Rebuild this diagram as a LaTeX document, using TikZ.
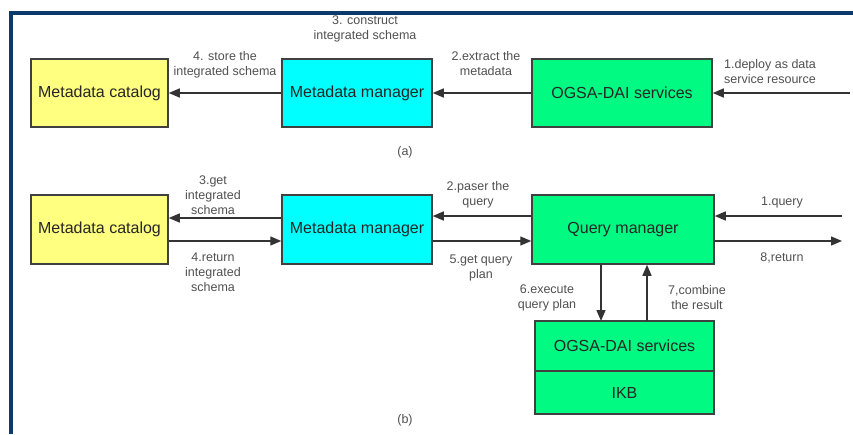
\documentclass[tikz,border=0pt]{standalone}
\usepackage{fontspec}
\setmainfont{Liberation Sans}
\usetikzlibrary{arrows.meta}

\definecolor{catcol}{HTML}{FFFF80}
\definecolor{mgrcol}{HTML}{00FFFF}
\definecolor{svccol}{HTML}{00FA82}
\definecolor{framecol}{HTML}{0B3B6E}
\definecolor{txtcol}{HTML}{505050}

\tikzset{
	box/.style = {draw = black!75, line width = 1.5pt, inner sep = 0pt, font = \fontsize{16}{19}\selectfont, text = black!85},
	lbl/.style = {align = center, inner sep = 0pt, font = \fontsize{12.5}{15}\selectfont, text = txtcol},
	arr/.style = {draw = black!80, line width = 1.4pt, -{Triangle[length = 11pt, width = 9pt]}}
}

\begin{document}
\begin{tikzpicture}[x = 1pt, y = -1pt]
	\useasboundingbox (0,0) rectangle (853,434);
	\draw[framecol, line width = 4pt] (11,434) -- (11,12.5) -- (853,12.5);

	% (a)
	\node[box, fill = catcol, minimum width = 137pt, minimum height = 68pt] (catA) at (99.5,93) {Metadata catalog};
	\node[box, fill = mgrcol, minimum width = 150pt, minimum height = 68pt] (mgrA) at (357,93) {Metadata manager};
	\node[box, fill = svccol, minimum width = 180pt, minimum height = 68pt] (svcA) at (622,93) {OGSA-DAI services};
	\coordinate (inA) at (850,93);
	\draw[arr] (inA) -- (svcA);
	\draw[arr] (svcA) -- (mgrA);
	\draw[arr] (mgrA) -- (catA);
	\node[lbl] (l1a) at (770,71.5) {1.deploy as data\\service resource};
	\node[lbl] (l2a) at (486,63.5) {2.extract the\\metadata};
	\node[lbl] (l3a) at (365,28.5) {3. construct\\integrated schema};
	\node[lbl] (l4a) at (225,64.5) {4. store the\\integrated schema};
	\node[lbl] (capA) at (405,152) {(a)};

	% (b)
	\node[box, fill = catcol, minimum width = 137pt, minimum height = 69pt] (catB) at (99.5,229.5) {Metadata catalog};
	\node[box, fill = mgrcol, minimum width = 150pt, minimum height = 69pt] (mgrB) at (357,229.5) {Metadata manager};
	\node[box, fill = svccol, minimum width = 182pt, minimum height = 69pt] (qry) at (623,229.5) {Query manager};
	\node[box, fill = svccol, minimum width = 179pt, minimum height = 50pt, outer sep = 0pt] (svcB) at (624.5,346) {OGSA-DAI services};
	\node[box, fill = svccol, minimum width = 179pt, minimum height = 43pt, outer sep = 0pt, anchor = north] (ikb) at (svcB.south) {IKB};
	\coordinate (inB) at (842,216);
	\coordinate (outB) at (842,241);
	\coordinate (down) at (601,0);
	\coordinate (up) at (647,0);
	\draw[arr] (inB) -- (qry.east |- inB);
	\draw[arr] (qry.east |- outB) -- (outB);
	\draw[arr] ([yshift = 13.5pt]qry.west) -- ([yshift = 13.5pt]mgrB.east);
	\draw[arr] ([yshift = -11.5pt]mgrB.east) -- ([yshift = -11.5pt]qry.west);
	\draw[arr] ([yshift = 11.5pt]mgrB.west) -- ([yshift = 11.5pt]catB.east);
	\draw[arr] ([yshift = -11.5pt]catB.east) -- ([yshift = -11.5pt]mgrB.west);
	\draw[arr] (qry.south -| down) -- (svcB.north -| down);
	\draw[arr] (svcB.north -| up) -- (qry.south -| up);
	\node[lbl] (l1b) at (782,202) {1.query};
	\node[lbl] (l2b) at (478,194.5) {2.paser the\\query};
	\node[lbl] (l3b) at (213,195) {3.get\\integrated\\schema};
	\node[lbl] (l4b) at (213,272) {4.return\\integrated\\schema};
	\node[lbl] (l5b) at (481,267.5) {5.get query\\plan};
	\node[lbl] (l6b) at (547,297.5) {6.execute\\query plan};
	\node[lbl] (l7b) at (697,297.5) {7,combine\\the result};
	\node[lbl] (l8b) at (782,258) {8,return};
	\node[lbl] (capB) at (405,420) {(b)};
\end{tikzpicture}
\end{document}
